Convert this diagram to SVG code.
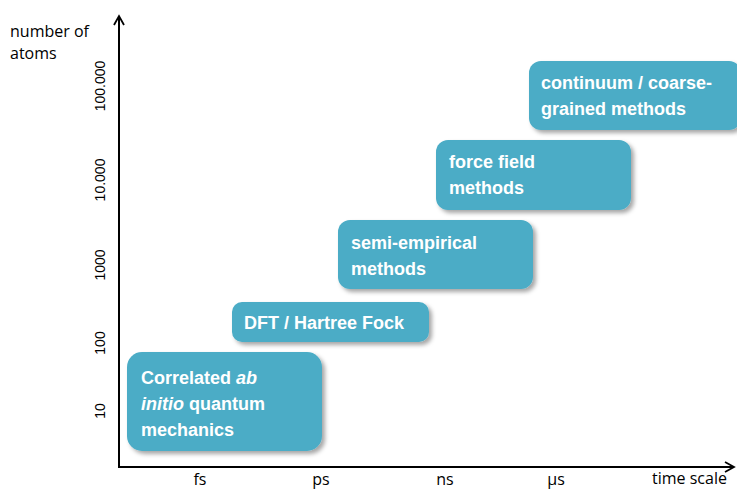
<svg xmlns="http://www.w3.org/2000/svg" width="737" height="490" viewBox="0 0 737 490">
<defs>
<filter id="sh" x="-10%" y="-10%" width="130%" height="140%">
<feDropShadow dx="3" dy="3" stdDeviation="2" flood-color="#000" flood-opacity="0.35"/>
</filter>
<marker id="arr" viewBox="0 0 12 12" refX="10" refY="6" markerWidth="12" markerHeight="12" markerUnits="userSpaceOnUse" orient="auto">
<path d="M1,1 L10,6 L1,11" fill="none" stroke="#000" stroke-width="1.8"/>
</marker>
<style>
.box{fill:#4bacc6;filter:url(#sh)}
.bt{font-family:"Liberation Sans",Arial,sans-serif;font-weight:bold;font-size:18px;fill:#fff}
.ax{font-family:"Open Sans","Liberation Sans",sans-serif;font-size:16px;fill:#000}
.tk{font-family:"Liberation Sans",Arial,sans-serif;font-size:14px;fill:#000}
</style>
</defs>
<rect width="737" height="490" fill="#fff"/>
<g id="connectors">
<line x1="119" y1="467" x2="119" y2="16" stroke="#000" stroke-width="2" marker-end="url(#arr)"/>
<line x1="118" y1="467" x2="734" y2="467" stroke="#000" stroke-width="2" marker-end="url(#arr)"/>
</g>
<g id="axis-labels">
<text class="ax" x="10" y="37">number of</text>
<text class="ax" x="10" y="59">atoms</text>
<text class="ax" x="652" y="484" font-size="17">time scale</text>
<text class="tk" transform="translate(105,86) rotate(-90)" text-anchor="middle">100.000</text>
<text class="tk" transform="translate(105,180) rotate(-90)" text-anchor="middle">10.000</text>
<text class="tk" transform="translate(105,265) rotate(-90)" text-anchor="middle">1000</text>
<text class="tk" transform="translate(105,343) rotate(-90)" text-anchor="middle">100</text>
<text class="tk" transform="translate(105,411) rotate(-90)" text-anchor="middle">10</text>
<text class="ax" x="200" y="485" font-size="15" text-anchor="middle">fs</text>
<text class="ax" x="321" y="485" font-size="15" text-anchor="middle">ps</text>
<text class="ax" x="445" y="485" font-size="15" text-anchor="middle">ns</text>
<text class="ax" x="556" y="485" font-size="15" text-anchor="middle">µs</text>
</g>
<g id="node-correlated">
<rect class="box" x="127" y="352" width="195" height="99" rx="15"/>
<text class="bt" x="141" y="384">Correlated <tspan font-style="italic">ab</tspan></text>
<text class="bt" x="141" y="410"><tspan font-style="italic">initio</tspan> quantum</text>
<text class="bt" x="141" y="436">mechanics</text>
</g>
<g id="node-dft">
<rect class="box" x="232" y="302" width="197" height="40" rx="10"/>
<text class="bt" x="244" y="329">DFT / Hartree Fock</text>
</g>
<g id="node-semi">
<rect class="box" x="338" y="220" width="195" height="69" rx="12"/>
<text class="bt" x="351" y="249">semi-empirical</text>
<text class="bt" x="351" y="275">methods</text>
</g>
<g id="node-ff">
<rect class="box" x="436" y="140" width="195" height="70" rx="12"/>
<text class="bt" x="449" y="168">force field</text>
<text class="bt" x="449" y="194">methods</text>
</g>
<g id="node-continuum">
<rect class="box" x="529" y="61" width="212" height="69" rx="12"/>
<text class="bt" x="541" y="89">continuum / coarse-</text>
<text class="bt" x="541" y="115">grained methods</text>
</g>
</svg>
